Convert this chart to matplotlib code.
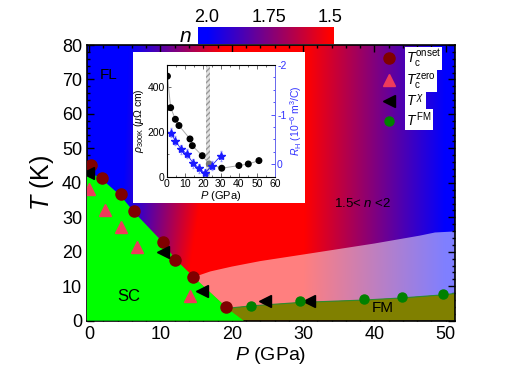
import numpy as np
import matplotlib
matplotlib.use('Agg')
import matplotlib.pyplot as plt
from matplotlib.colors import LinearSegmentedColormap, Normalize
from matplotlib.patches import Polygon
from matplotlib.ticker import MultipleLocator

plt.rcParams['font.family'] = ['Liberation Sans', 'DejaVu Sans']
plt.rcParams['mathtext.fontset'] = 'custom'
plt.rcParams['mathtext.rm'] = 'Liberation Sans'
plt.rcParams['mathtext.it'] = 'Liberation Sans:italic'
plt.rcParams['mathtext.bf'] = 'Liberation Sans:bold'
plt.rcParams['axes.unicode_minus'] = False

# ---- main phase diagram data ----
p_onset = [0.2, 1.8, 4.4, 6.3, 10.3, 12.1, 14.6, 19.2]
t_onset = [45.3, 41.5, 36.8, 31.8, 22.8, 17.7, 12.8, 3.9]
p_zero = [0.0, 2.2, 4.4, 6.7, 14.2]
t_zero = [38.3, 32.0, 27.3, 21.3, 7.3]
p_chi = [-0.2, 10.4, 15.8, 24.7, 30.8]
t_chi = [42.8, 19.9, 8.7, 5.6, 5.6]
p_fm = [22.7, 29.6, 38.6, 43.8, 49.6]
t_fm = [4.4, 5.6, 6.3, 6.8, 7.7]

# phase boundaries
sc_p = [-0.3, 1.8, 4.4, 6.3, 10.3, 12.1, 14.6, 19.4, 21.7]
sc_t = [43.6, 41.0, 36.3, 31.5, 22.8, 17.8, 12.8, 3.6, 0.0]
fm_p = [19.4, 22.7, 29.6, 38.6, 43.8, 49.6, 51.3]
fm_t = [3.6, 4.3, 5.3, 6.0, 6.6, 7.5, 7.9]
pink_p = [14.6, 17.0, 20.0, 24.0, 30.0, 40.0, 46.4, 48.5, 51.3]
pink_t = [12.6, 14.3, 15.7, 17.3, 19.2, 22.4, 24.7, 25.6, 25.9]

# exponent n background: knots at T=0 and T=80
n_vals = [2.0, 2.0, 1.5, 1.5, 2.0, 2.0]
knot_p_bottom = [-0.3, 4.0, 13.0, 30.0, 50.0, 51.3]
knot_p_top = [-0.3, 5.5, 19.0, 30.5, 50.0, 51.3]

# ---- inset data ----
p_rho = [0.4, 2.2, 4.8, 6.8, 12.9, 14.2, 19.7, 23.6, 30.5, 40.0, 45.2, 51.1]
rho = [450, 309, 257, 229, 169, 139, 94, 57, 38, 50, 57, 72]
p_rh = [2.2, 4.8, 8.1, 11.1, 14.7, 17.9, 21.2, 24.9, 29.9]
rh = [-0.64, -0.47, -0.30, -0.21, -0.02, 0.08, 0.18, 0.03, -0.17]
rh_err = [0.09, 0.09, 0.09, 0.09, 0.09, 0.09, 0.08, 0.09, 0.1]

xmin, xmax = -0.3, 51.3
cmap = LinearSegmentedColormap.from_list('n_cmap', ['#FF0000', '#0000FF'])
norm = Normalize(vmin=1.5, vmax=2.0)

fig = plt.figure(figsize=(5.06, 3.79), dpi=100)
ax = fig.add_axes([87/506, 1-320.7/379, 368/506, 275.7/379])

# background n(P,T)
P = np.linspace(xmin, xmax, 520)
T = np.linspace(0, 80, 320)
field = np.empty((len(T), len(P)))
kb = np.array(knot_p_bottom)
kt = np.array(knot_p_top)
for i, t in enumerate(T):
    knots = kb + (kt - kb) * t / 80.0
    field[i] = np.interp(P, knots, n_vals)
ax.imshow(field, extent=[xmin, xmax, 0, 80], origin='lower', aspect='auto',
          cmap=cmap, norm=norm, interpolation='bilinear', zorder=0)

# light (pink) region
pink_poly = list(zip(pink_p, pink_t)) + list(zip(fm_p[::-1], fm_t[::-1]))
ax.add_patch(Polygon(pink_poly, closed=True, facecolor='white', alpha=0.5,
                     edgecolor='none', zorder=1))
# FM region
fm_poly = list(zip(fm_p, fm_t)) + [(xmax, 0), (21.7, 0)]
ax.add_patch(Polygon(fm_poly, closed=True, facecolor='#808000',
                     edgecolor='none', zorder=2))
ax.plot(fm_p, fm_t, color='#2e8b2e', lw=0.8, zorder=2)
# SC region
sc_poly = list(zip(sc_p, sc_t)) + [(xmin, 0)]
ax.add_patch(Polygon(sc_poly, closed=True, facecolor='#00FF00',
                     edgecolor='none', zorder=3))

ax.plot(p_onset, t_onset, 'o', color='#800000', ms=8, ls='none', zorder=5,
        label=r'$T_{\rm c}^{\rm onset}$')
ax.plot(p_zero, t_zero, '^', color='#EE3B5B', ms=8.5, ls='none', zorder=5,
        label=r'$T_{\rm c}^{\rm zero}$')
ax.plot(p_chi, t_chi, '<', color='black', ms=9, ls='none', zorder=5,
        label=r'$T^{\,\chi}$')
ax.plot(p_fm, t_fm, 'o', color='#008000', ms=6.5, ls='none', zorder=5,
        label=r'$T^{\rm\, FM}$')

leg = ax.legend(loc='upper right', bbox_to_anchor=(0.963, 0.99), frameon=False,
                fontsize=10, handletextpad=0.75, labelspacing=0.12,
                borderpad=0, borderaxespad=0, handlelength=1.0)
for txt in leg.get_texts():
    txt.set_bbox(dict(facecolor='white', edgecolor='none', pad=0.8))

ax.text(2.7, 71.3, 'FL', fontsize=11, ha='center', va='center', zorder=6)
ax.text(5.5, 6.9, 'SC', fontsize=12, ha='center', va='center', zorder=6)
ax.text(41.2, 3.7, 'FM', fontsize=11, ha='center', va='center', zorder=6)
ax.text(38.4, 34.0, r'1.5< $n$ <2', fontsize=9.5, ha='center', va='center', zorder=6)

ax.set_xlim(xmin, xmax)
ax.set_ylim(0, 80)
ax.xaxis.set_major_locator(MultipleLocator(10))
ax.xaxis.set_minor_locator(MultipleLocator(2))
ax.yaxis.set_major_locator(MultipleLocator(10))
ax.yaxis.set_minor_locator(MultipleLocator(2))
ax.tick_params(which='both', direction='in', top=True, right=True, labelsize=13, width=1)
ax.tick_params(which='major', length=5)
ax.tick_params(which='minor', length=2.5)
for sp in ax.spines.values():
    sp.set_linewidth(1.2)
ax.set_xlabel(r'$P$ (GPa)', fontsize=14, labelpad=2)
ax.set_ylabel(r'$T$ (K)', fontsize=18, labelpad=4)

# colorbar for n
cax = fig.add_axes([198/506, 1-44/379, 136/506, 17/379])
grad = np.linspace(2.037, 1.484, 300)[None, :]
cax.imshow(grad, extent=[2.037, 1.484, 0, 1], aspect='auto', cmap=cmap, norm=norm)
cax.set_xlim(2.037, 1.484)
cax.set_xticks([2.0, 1.75, 1.5])
cax.set_xticklabels(['2.0', '1.75', '1.5'])
cax.set_yticks([])
cax.xaxis.tick_top()
cax.tick_params(axis='x', length=0, labelsize=13, pad=1)
for sp in cax.spines.values():
    sp.set_visible(False)
fig.text(185/506, 1-37/379, r'$n$', fontsize=15, ha='center', va='center')

# white backdrop for inset
bg = fig.add_axes([133/506, 1-203/379, 172/506, 151/379])
bg.set_facecolor('white')
bg.set_xticks([])
bg.set_yticks([])
for sp in bg.spines.values():
    sp.set_visible(False)

# inset
axi = fig.add_axes([166.7/506, 1-176.7/379, 108.3/506, 111.7/379])
axi.axvspan(21.8, 24.2, facecolor='#e0e0e0', edgecolor='#999999', hatch='//////',
            lw=0, zorder=0)
axi.plot(p_rho, rho, '-', color='#aaaaaa', lw=0.7, zorder=2)
rho_colors = ['black'] * len(p_rho)
rho_colors[7] = '#777777'
axi.scatter(p_rho, rho, s=16, c=rho_colors, zorder=3)
axi.set_xlim(0, 60)
axi.set_ylim(0, 500)
axi.set_xticks([0, 10, 20, 30, 40, 50, 60])
axi.set_yticks([0, 200, 400])
axi.yaxis.set_minor_locator(MultipleLocator(100))
axi.xaxis.set_minor_locator(MultipleLocator(5))
axi.tick_params(which='both', direction='in', labelsize=7.5, pad=1.5, width=0.6,
                top=True, color='#555555')
axi.tick_params(which='major', length=3)
axi.tick_params(which='minor', length=1.5)
for sp in axi.spines.values():
    sp.set_linewidth(0.6)
    sp.set_color('#777777')
axi.set_xlabel(r'$P$ (GPa)', fontsize=8, labelpad=0)
axi.set_ylabel(r'$\rho_{\rm 300K}$ ($\mu\Omega$ cm)', fontsize=7.5, labelpad=1)

axr = axi.twinx()
axr.errorbar(p_rh, rh, yerr=rh_err, fmt='*-', color='#1a1aff', ecolor='#9999ff',
             mfc='#1a1aff', mec='#1a1aff', ms=6, lw=0.6, elinewidth=0.7,
             capsize=1)
axr.set_ylim(0.25, -2)
axr.set_yticks([0, -1, -2])
axr.yaxis.set_minor_locator(MultipleLocator(0.25))
axr.tick_params(which='both', direction='in', labelsize=7.5, pad=1.5, width=0.6,
                colors='#3333ff')
axr.tick_params(which='major', length=3)
axr.tick_params(which='minor', length=1.5)
axr.spines['right'].set_color('#6666ff')
axr.spines['right'].set_linewidth(0.6)
axr.set_ylabel(r'$R_{\rm H}$ (10$^{-6}$ m$^3$/C)', fontsize=7.5, color='#3333ff',
               labelpad=1)

fig.savefig('out.png', dpi=100)
